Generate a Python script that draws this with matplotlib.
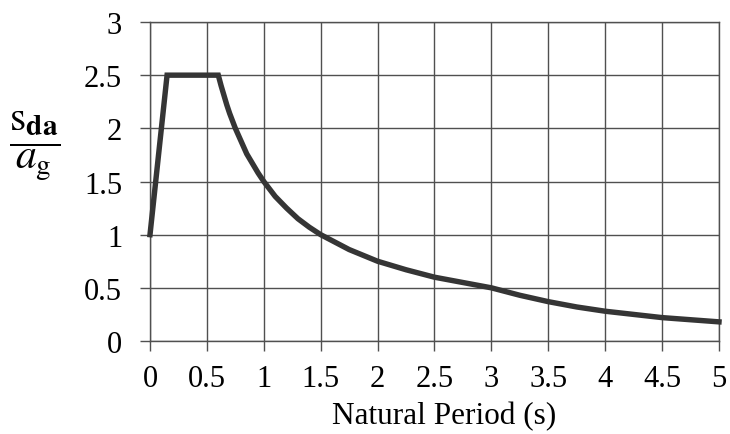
import matplotlib
matplotlib.use("Agg")
import matplotlib.pyplot as plt

# natural period (s) and normalised spectral acceleration
period = [0, 0.15, 0.6, 0.625, 0.65, 0.675, 0.7, 0.75, 0.8, 0.85, 0.9, 0.95, 1.0, 1.1,
          1.2, 1.3, 1.4, 1.5, 1.75, 2.0, 2.25, 2.5, 2.75, 3.0, 3.25, 3.5, 3.75, 4.0,
          4.25, 4.5, 4.75, 5.0]
sda_ag = [1.0, 2.5, 2.5, 2.4, 2.31, 2.22, 2.14, 2.0, 1.88, 1.76, 1.67, 1.58, 1.5, 1.36,
          1.25, 1.15, 1.07, 1.0, 0.86, 0.75, 0.67, 0.6, 0.55, 0.5, 0.43, 0.37, 0.32, 0.28,
          0.25, 0.22, 0.2, 0.18]

x_ticks = [0, 0.5, 1, 1.5, 2, 2.5, 3, 3.5, 4, 4.5, 5]
x_labels = ["0", "0.5", "1", "1.5", "2", "2.5", "3", "3.5", "4", "4.5", "5"]
y_ticks = [0, 0.5, 1, 1.5, 2, 2.5, 3]
y_labels = ["0", "0.5", "1", "1.5", "2", "2.5", "3"]

plt.rcParams["font.family"] = ["Liberation Serif", "DejaVu Serif"]
plt.rcParams["mathtext.fontset"] = "stix"

grid_col = "#505050"

fig = plt.figure(figsize=(7.3, 4.35), dpi=100)
ax = fig.add_axes([150 / 730, 1 - 342 / 435, 569 / 730, 319 / 435])

ax.plot(period, sda_ag, color="#353535", linewidth=3.9, solid_joinstyle="miter",
        zorder=3, clip_on=False)

ax.set_xlim(0, 5)
ax.set_ylim(0, 3)
ax.set_xticks(x_ticks)
ax.set_xticklabels(x_labels)
ax.set_yticks(y_ticks)
ax.set_yticklabels(y_labels)
ax.grid(True, color=grid_col, linewidth=1.0)
for s in ax.spines.values():
    s.set_color(grid_col)
    s.set_linewidth(1.0)
ax.tick_params(axis="both", direction="out", length=7.5, width=1.0, color=grid_col,
               labelsize=22)
ax.tick_params(axis="x", pad=9)
ax.tick_params(axis="y", pad=12.5)

ax.set_xlabel("Natural Period (s)", fontsize=22.5, labelpad=6, x=0.517)
fig.text(35 / 730, 1 - 146 / 435, r"$\dfrac{\mathrm{s}_{\mathbf{da}}}{a_{\mathrm{g}}}$",
         fontsize=30, ha="center", va="center")

fig.savefig("out.png", dpi=100)
